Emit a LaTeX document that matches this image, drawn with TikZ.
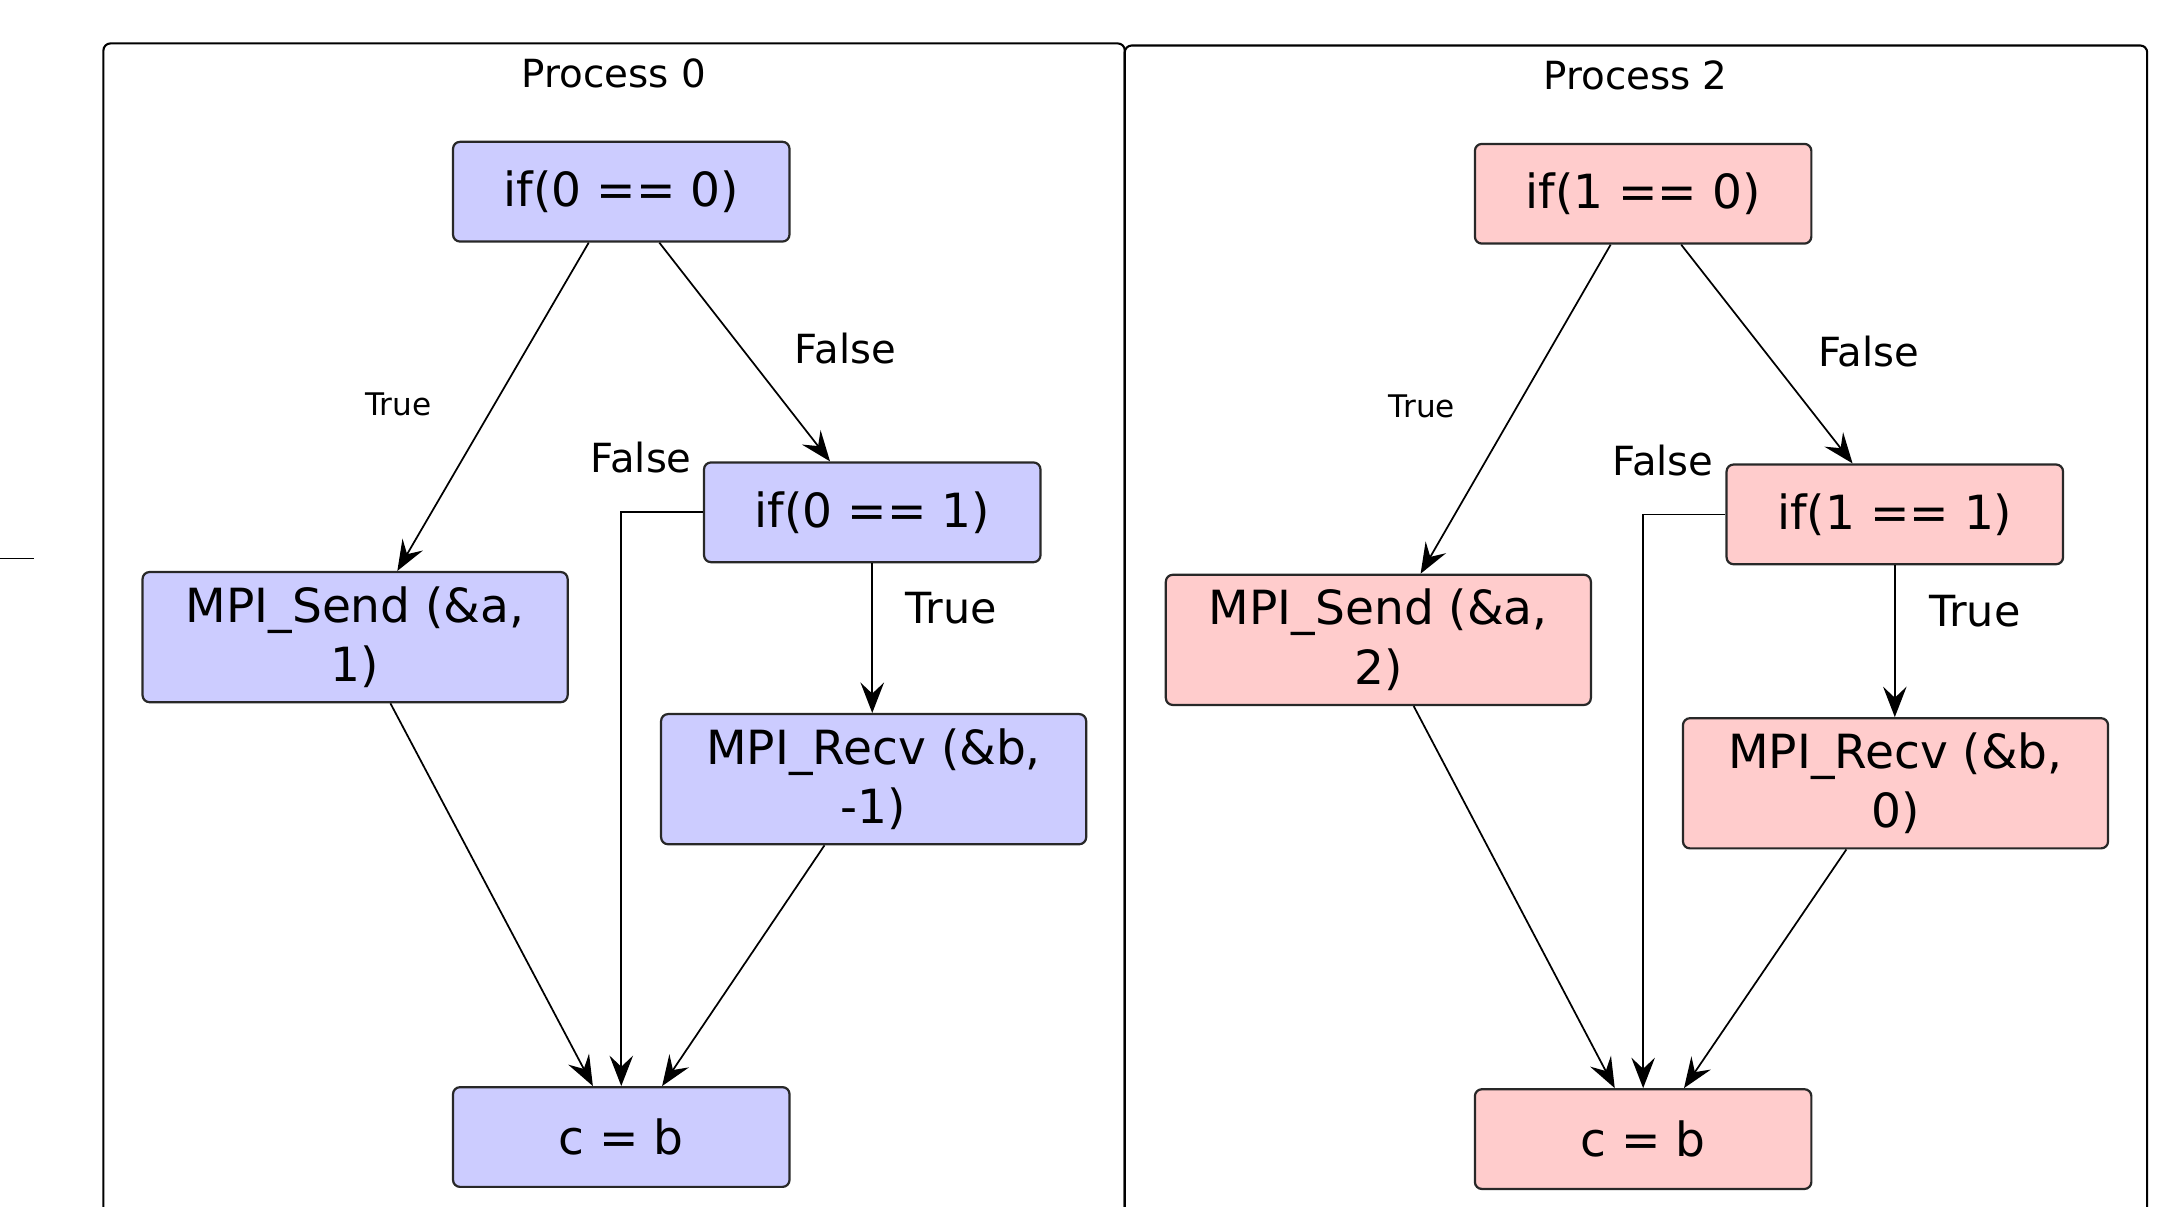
\documentclass[tikz,border=0pt]{standalone}
\usepackage{fontspec}
\setmainfont{DejaVu Sans}
\usetikzlibrary{arrows.meta}
\definecolor{boxblue}{RGB}{204,204,255}
\definecolor{boxpink}{RGB}{255,204,204}
\definecolor{edgegray}{RGB}{40,40,40}
\begin{document}
\begin{tikzpicture}[x=0.996pt,y=-0.996pt,
  box/.style={draw=edgegray, line width=1.6pt, rounded corners=5pt,
    minimum width=243pt, minimum height=72pt, inner sep=0pt, align=center,
    font=\fontsize{34}{43}\selectfont},
  wbox/.style={box, minimum width=307pt, minimum height=94pt},
  pzero/.style={fill=boxblue},
  ptwo/.style={fill=boxpink},
  conn/.style={line width=1.25pt, -{Stealth[length=22pt,width=17pt,inset=8pt]}},
  procframe/.style={line width=1.5pt, rounded corners=5pt},
  biglbl/.style={font=\fontsize{29}{33}\selectfont},
  tlbl/.style={font=\fontsize{31}{35}\selectfont},
  smlbl/.style={font=\fontsize{22.5}{26}\selectfont},
  ttl/.style={font=\fontsize{28}{32}\selectfont}]
\useasboundingbox (0,0) rectangle (1566.3,875.2);

% frames
\draw[procframe] (75,876) -- (75,31.5) -- (815.6,31.5) -- (815.6,876);
\draw[procframe] (815.6,876) -- (815.6,33) -- (1557,33) -- (1557,876);
\draw[line width=1.4pt] (0,405) -- (25,405);

\node[ttl] (t0) at (445,53) {Process 0};
\node[ttl] (t2) at (1186,55) {Process 2};

% ---------- Process 0 ----------
\node[box,pzero] (a1) at (450.5,139) {if(0 == 0)};
\node[box,pzero] (a2) at (632.5,371.5) {if(0 == 1)};
\node[wbox,pzero] (a3) at (257.5,462) {MPI\_Send (\&a,\\1)};
\node[wbox,pzero] (a4) at (633.5,565) {MPI\_Recv (\&b,\\-1)};
\node[box,pzero] (a5) at (450.5,824.5) {c = b};

\draw[conn] ([xshift=-23.5pt]a1.south) -- ([xshift=30.5pt]a3.north);
\draw[conn] ([xshift=27.5pt]a1.south) -- ([xshift=-30.5pt]a2.north);
\draw[conn] (a2.west) -| (a5.north);
\draw[conn] (a2.south) -- (a2.south |- a4.north);
\draw[conn] ([xshift=25.5pt]a3.south) -- ([xshift=-20.5pt]a5.north);
\draw[conn] ([xshift=-35.5pt]a4.south) -- ([xshift=29.5pt]a5.north);

\node[smlbl] (a6) at (289,293) {True};
\node[biglbl] (a7) at (613,253) {False};
\node[biglbl] (a8) at (465,332) {False};
\node[tlbl] (a9) at (690,441) {True};

% ---------- Process 2 ----------
\node[box,ptwo] (b1) at (1191.5,140.5) {if(1 == 0)};
\node[box,ptwo] (b2) at (1374,373) {if(1 == 1)};
\node[wbox,ptwo] (b3) at (999.5,464) {MPI\_Send (\&a,\\2)};
\node[wbox,ptwo] (b4) at (1374.5,568) {MPI\_Recv (\&b,\\0)};
\node[box,ptwo] (b5) at (1191.5,826) {c = b};

\draw[conn] ([xshift=-23.5pt]b1.south) -- ([xshift=30.5pt]b3.north);
\draw[conn] ([xshift=27.5pt]b1.south) -- ([xshift=-30.5pt]b2.north);
\draw[conn] (b2.west) -| (b5.north);
\draw[conn] (b2.south) -- (b2.south |- b4.north);
\draw[conn] ([xshift=25.5pt]b3.south) -- ([xshift=-20.5pt]b5.north);
\draw[conn] ([xshift=-35.5pt]b4.south) -- ([xshift=29.5pt]b5.north);

\node[smlbl] (b6) at (1031,295) {True};
\node[biglbl] (b7) at (1355,255) {False};
\node[biglbl] (b8) at (1206,334) {False};
\node[tlbl] (b9) at (1432,443) {True};
\end{tikzpicture}
\end{document}
